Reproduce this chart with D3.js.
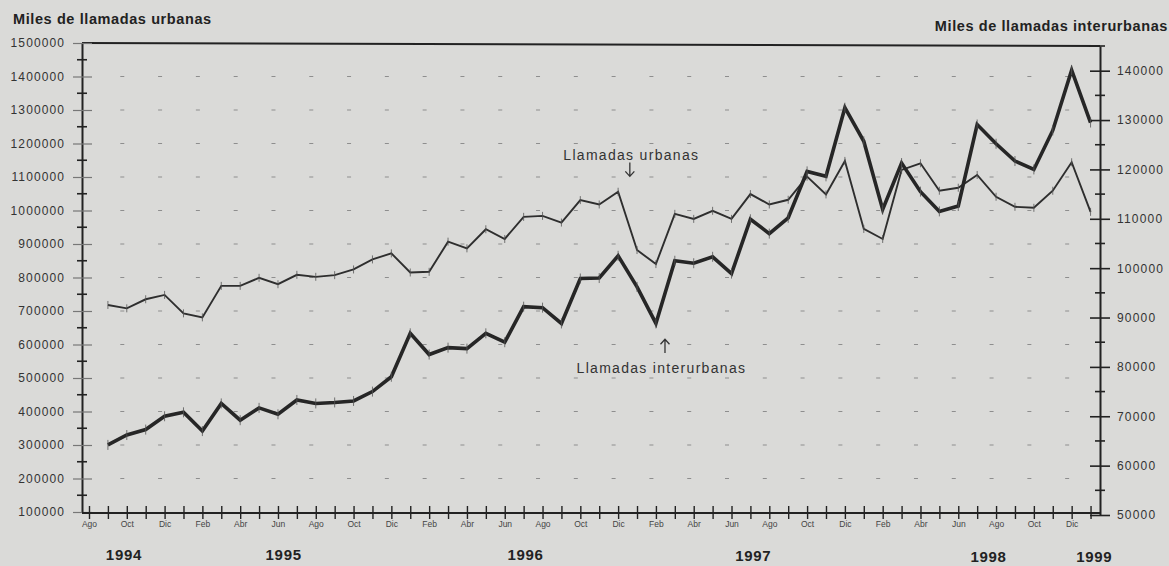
<!DOCTYPE html>
<html>
<head>
<meta charset="utf-8">
<script src="https://cdn.jsdelivr.net/npm/d3@7"></script>
<style>
body{margin:0;background:#dadad8}
text{font-family:"Liberation Sans",Arial,sans-serif}
</style>
</head>
<body>
<script>
// month index 0 = Ago 1994 ... 53 = Ene 1999
var monthNames=["Ene","Feb","Mar","Abr","May","Jun","Jul","Ago","Sep","Oct","Nov","Dic"]
var firstMonth=7
var monthIndex=d3.range(0,54)

// series start at Sep 1994 (index 1)
var urbanas=[718000,708000,735000,748000,693000,681000,775000,775000,799000,780000,
  808000,802000,807000,824000,854000,872000,815000,817000,907000,887000,
  944000,915000,981000,984000,964000,1031000,1018000,1056000,882000,840000,
  990000,975000,999000,975000,1049000,1018000,1032000,1101000,1048000,1148000,
  945000,915000,1121000,1141000,1059000,1068000,1106000,1041000,1011000,1008000,
  1059000,1144000,996000]
var interurbanas=[64200,66200,67300,70000,70800,67000,72600,69200,71700,70400,
  73300,72600,72800,73100,75000,78000,86800,82500,83900,83700,
  86800,85000,92200,92000,88800,97900,98000,102500,96200,88800,
  101500,101000,102300,98900,109900,107000,110200,119600,118600,132500,
  125700,111900,121300,115500,111500,112600,129100,125200,121700,120000,
  127900,140100,129500]

var leftTicks=[100000,200000,300000,400000,500000,600000,700000,800000,900000,1000000,1100000,1200000,1300000,1400000,1500000]
var rightTicks=[50000,60000,70000,80000,90000,100000,110000,120000,130000,140000]
var years=["1994","1995","1996","1997","1998","1999"]
var yearAnchor=[1.85,10.3,23.1,35.15,47.6,53.2]

var screen={width:1169,height:566}
var svg=d3.select("body").append("svg").attr("width",screen.width).attr("height",screen.height)
svg.append("rect").attr("width",screen.width).attr("height",screen.height).attr("fill","#dadad8")

var xScale=d3.scaleLinear().domain([0,53.5]).range([89,1100])
var yLeft=d3.scaleLinear().domain([100000,1500000]).range([512,43])
var yRight=d3.scaleLinear().domain([50000,145000]).range([515,46])
var leftX=82
var rightX=xScale(53.5)
var baseY=513
var numFormat=d3.format("d")

// dotted grid
var gridCols=monthIndex.filter(function(i){return i>0&&i%2==0})
var gridRows=leftTicks.slice(1,-1)
svg.append("g").selectAll("line")
   .data(d3.cross(gridCols,gridRows))
   .enter()
   .append("line")
   .attr("x1",function(d){return xScale(d[0])-6.5})
   .attr("x2",function(d){return xScale(d[0])-2.5})
   .attr("y1",function(d){return yLeft(d[1])})
   .attr("y2",function(d){return yLeft(d[1])})
   .style("stroke","#8e8e8e")
   .style("stroke-width",1)

// top frame line
svg.append("line")
   .attr("x1",leftX).attr("x2",rightX)
   .attr("y1",yLeft(1500000)).attr("y2",yRight(145000))
   .style("stroke","#222").style("stroke-width",2)

// left axis
var yAxisL=d3.axisLeft(yLeft).tickValues(leftTicks).tickFormat(numFormat)
   .tickSizeInner(9).tickSizeOuter(0).tickPadding(8)
var gL=svg.append("g").attr("transform","translate("+leftX+",0)").call(yAxisL)
gL.select(".domain").style("stroke","#222").style("stroke-width",2)
gL.selectAll(".tick line").attr("x1",10).style("stroke","#777").style("stroke-width",1.2)
gL.selectAll(".tick text").style("font-family","Liberation Sans").style("font-size","12px")
  .style("letter-spacing","1.1px").style("fill","#333")
gL.append("g").selectAll("line")
  .data(leftTicks.slice(0,-1).map(function(v){return v+50000}))
  .enter()
  .append("line")
  .attr("x1",-5).attr("x2",5)
  .attr("y1",function(d){return yLeft(d)}).attr("y2",function(d){return yLeft(d)})
  .style("stroke","#222").style("stroke-width",1.6)

// right axis
var yAxisR=d3.axisRight(yRight).tickValues(rightTicks).tickFormat(numFormat)
   .tickSizeInner(10).tickSizeOuter(0).tickPadding(7)
var gR=svg.append("g").attr("transform","translate("+rightX+",0)").call(yAxisR)
gR.select(".domain").style("stroke","#222").style("stroke-width",2)
gR.selectAll(".tick line").attr("x1",-10).style("stroke","#222").style("stroke-width",1.6)
gR.selectAll(".tick text").style("font-family","Liberation Sans").style("font-size","12px")
  .style("letter-spacing","1.2px").style("fill","#333")
gR.append("g").selectAll("line")
  .data(rightTicks.map(function(v){return v+5000}))
  .enter()
  .append("line")
  .attr("x1",-5).attr("x2",5)
  .attr("y1",function(d){return yRight(d)}).attr("y2",function(d){return yRight(d)})
  .style("stroke","#222").style("stroke-width",1.6)

// x axis
svg.append("line")
   .attr("x1",leftX).attr("x2",rightX).attr("y1",baseY).attr("y2",baseY)
   .style("stroke","#222").style("stroke-width",2)
var xAxis=d3.axisBottom(xScale).tickValues(monthIndex).tickSizeInner(6).tickSizeOuter(0).tickPadding(2)
   .tickFormat(function(i){return i%2==0?monthNames[(firstMonth+i)%12]:""})
var gX=svg.append("g").attr("transform","translate(0,"+baseY+")").call(xAxis)
gX.select(".domain").remove()
gX.selectAll(".tick line").attr("y1",-7).style("stroke","#222").style("stroke-width",1.4)
gX.selectAll(".tick text").style("font-family","Liberation Sans").style("font-size","8.5px").style("fill","#444")

// year labels
svg.append("g").selectAll("text")
   .data(years)
   .enter()
   .append("text")
   .attr("x",function(d,i){return xScale(yearAnchor[i])})
   .attr("y",function(d,i){return i<3?560:(i==3?561:562)})
   .attr("text-anchor","middle")
   .style("font-weight","bold").style("font-size","15px").style("letter-spacing","0.7px").style("fill","#222")
   .text(function(d){return d})

// lines
var lineL=d3.line().x(function(d,i){return xScale(i+1)}).y(function(d){return yLeft(d)})
var lineR=d3.line().x(function(d,i){return xScale(i+1)}).y(function(d){return yRight(d)})
svg.append("path").datum(urbanas).attr("d",lineL)
   .style("fill","none").style("stroke","#2e2e2e").style("stroke-width",1.9)
svg.append("path").datum(interurbanas).attr("d",lineR)
   .style("fill","none").style("stroke","#262626").style("stroke-width",3.6)

// point markers
svg.append("g").selectAll("line")
   .data(urbanas)
   .enter()
   .append("line")
   .attr("x1",function(d,i){return xScale(i+1)}).attr("x2",function(d,i){return xScale(i+1)})
   .attr("y1",function(d){return yLeft(d)-4}).attr("y2",function(d){return yLeft(d)+4})
   .style("stroke","#555").style("stroke-width",0.8)
svg.append("g").selectAll("line")
   .data(interurbanas)
   .enter()
   .append("line")
   .attr("x1",function(d,i){return xScale(i+1)}).attr("x2",function(d,i){return xScale(i+1)})
   .attr("y1",function(d){return yRight(d)-5}).attr("y2",function(d){return yRight(d)+5})
   .style("stroke","#555").style("stroke-width",0.8)

// titles
svg.append("text").attr("x",13).attr("y",24)
   .style("font-weight","bold").style("font-size","14.5px").style("letter-spacing","0.6px").style("fill","#222")
   .text("Miles de llamadas urbanas")
svg.append("text").attr("x",1168).attr("y",31).attr("text-anchor","end")
   .style("font-weight","bold").style("font-size","14.5px").style("letter-spacing","0.6px").style("fill","#222")
   .text("Miles de llamadas interurbanas")

// annotations
var drawArrow=function(x,y1,y2){
  var dir=y2>y1?1:-1
  svg.append("path")
     .attr("d","M"+x+","+y1+"L"+x+","+y2+"M"+(x-4.5)+","+(y2-dir*5)+"L"+x+","+y2+"L"+(x+4.5)+","+(y2-dir*5))
     .style("fill","none").style("stroke","#333").style("stroke-width",1.3)
}
svg.append("text").attr("x",xScale(25.1)).attr("y",yLeft(1150000))
   .style("font-size","14px").style("letter-spacing","1.3px").style("fill","#333")
   .text("Llamadas urbanas")
drawArrow(xScale(28.62),yLeft(1143000),yLeft(1102000))
svg.append("text").attr("x",xScale(25.8)).attr("y",yRight(78750))
   .style("font-size","14px").style("letter-spacing","1.3px").style("fill","#333")
   .text("Llamadas interurbanas")
drawArrow(xScale(30.48),yRight(82800),yRight(85600))
</script>
</body>
</html>
